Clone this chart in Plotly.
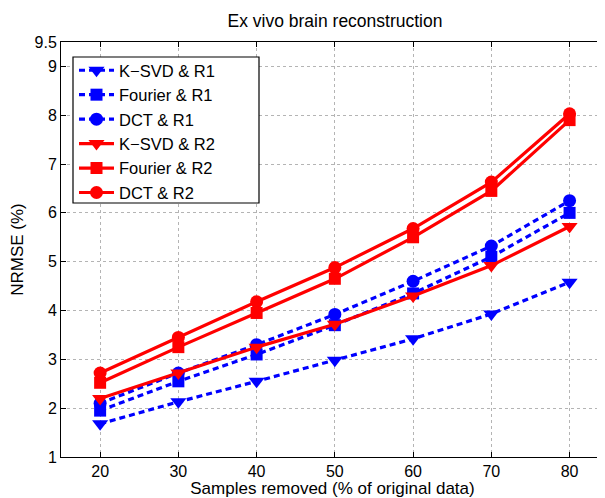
import plotly.graph_objects as go

samples_removed = [20, 30, 40, 50, 60, 70, 80]
ksvd_r1 = [1.68, 2.13, 2.55, 2.98, 3.42, 3.93, 4.58]
fourier_r1 = [1.95, 2.55, 3.10, 3.70, 4.35, 5.10, 6.00]
dct_r1 = [2.10, 2.72, 3.30, 3.92, 4.60, 5.32, 6.25]
ksvd_r2 = [2.20, 2.72, 3.25, 3.72, 4.30, 4.92, 5.72]
fourier_r2 = [2.52, 3.25, 3.95, 4.65, 5.50, 6.45, 7.90]
dct_r2 = [2.72, 3.45, 4.18, 4.88, 5.68, 6.63, 8.03]

x_ticks = [20, 30, 40, 50, 60, 70, 80]
y_ticks = [1, 2, 3, 4, 5, 6, 7, 8, 9, 9.5]
y_tick_labels = ["1", "2", "3", "4", "5", "6", "7", "8", "9", "9.5"]

series = [
    ("K\u2212SVD & R1", ksvd_r1, "blue", "triangle-down", "6px,4px", 14),
    ("Fourier & R1", fourier_r1, "blue", "square", "6px,4px", 12),
    ("DCT & R1", dct_r1, "blue", "circle", "6px,4px", 13),
    ("K\u2212SVD & R2", ksvd_r2, "red", "triangle-down", "solid", 14),
    ("Fourier & R2", fourier_r2, "red", "square", "solid", 12),
    ("DCT & R2", dct_r2, "red", "circle", "solid", 13),
]

fig = go.Figure()
for name, vals, color, sym, dash, msize in series:
    fig.add_trace(go.Scatter(
        x=samples_removed, y=vals, name=name, mode="lines+markers",
        line=dict(color=color, width=3.2, dash=dash),
        marker=dict(symbol=sym, size=msize, color=color, line=dict(width=0)),
    ))

font = "Liberation Sans, Arial, Helvetica, sans-serif"
axis_common = dict(
    showline=True, linecolor="black", linewidth=1, mirror="ticks",
    ticks="inside", ticklen=5, tickcolor="black",
    showgrid=True, gridcolor="#b4b4b4", griddash="dot", gridwidth=1,
    zeroline=False, tickfont=dict(size=16, color="black", family=font),
)

# legend frame (opaque white box with black border), drawn above the data
fig.add_shape(type="rect", xref="paper", yref="paper",
              x0=12 / 543, x1=198 / 543, y0=254 / 415, y1=400 / 415,
              fillcolor="white", line=dict(color="black", width=1.2),
              layer="above")

# The page body adds an 8px offset; the figure is sized to fill the rest.
fig.update_layout(
    width=597, height=490,
    margin=dict(l=53, r=1, t=34, b=41, autoexpand=False),
    paper_bgcolor="white", plot_bgcolor="white",
    font=dict(family=font, color="black"),
    title=dict(text="Ex vivo brain reconstruction", x=327 / 597, xanchor="center",
               y=1 - 13 / 490, yanchor="middle", font=dict(size=17.5, color="black")),
    xaxis=dict(range=[15, 84.4], tickvals=x_ticks,
               title=dict(text="Samples removed (% of original data)", standoff=2,
                          font=dict(size=17)), **axis_common),
    yaxis=dict(range=[1, 9.5], tickvals=y_ticks, ticktext=y_tick_labels,
               title=dict(text="NRMSE (%)", standoff=8, font=dict(size=17)),
               **axis_common),
    legend=dict(x=13 / 543, y=1 - 11 / 415, xanchor="left", yanchor="top",
                bgcolor="rgba(0,0,0,0)", borderwidth=0,
                font=dict(size=16.5, color="black"), tracegroupgap=0,
                itemwidth=35),
    showlegend=True,
)

fig.write_html("out.html")
